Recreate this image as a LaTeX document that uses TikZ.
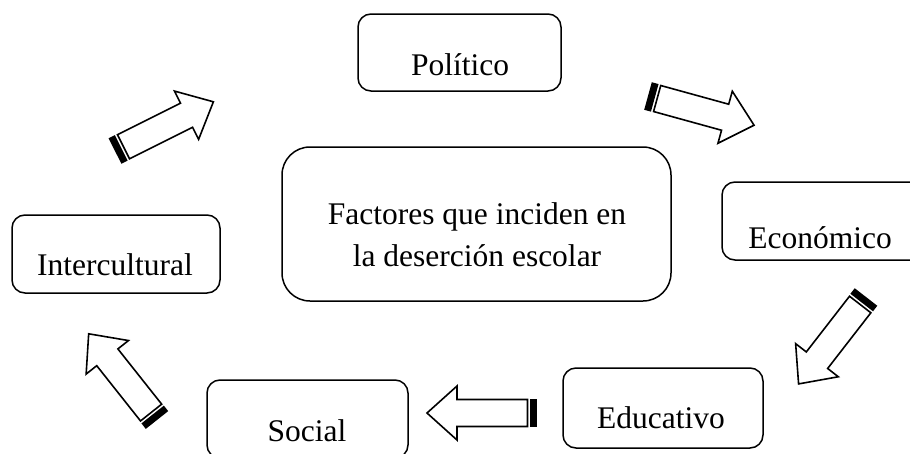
\documentclass[tikz,border=0pt]{standalone}
\usepackage{fontspec}
\setmainfont{Liberation Serif}
\tikzset{
  box/.style={draw, line width=1.5pt, rounded corners=13pt, inner sep=0pt, fill=none},
  lbl/.style={inner sep=0pt, anchor=base, font=\fontsize{31.5}{38}\selectfont},
  stripedarrow/.pic={
    \fill[black] (0,-14.3) rectangle (7,14.3);
    \draw[line width=1.6pt, fill=white, line join=miter]
      (9.5,-13.5) -- (80,-13.5) -- (80,-27) -- (110,0) -- (80,27) -- (80,13.5) -- (9.5,13.5) -- cycle;
  }
}
\begin{document}
\begin{tikzpicture}[x=1pt,y=1pt]
\useasboundingbox (0,0) rectangle (910,-453);
\clip (0,0) rectangle (910,-453);
% boxes
\node[box, minimum width=203pt, minimum height=77pt] (pol) at (459.5,-52.5) {};
\node[box, rounded corners=28pt, minimum width=389pt, minimum height=154pt] (cen) at (476.5,-224) {};
\node[box, minimum width=203pt, minimum height=78pt] (eco) at (823.5,-221) {};
\node[box, minimum width=208pt, minimum height=78pt] (int) at (116,-254) {};
\node[box, minimum width=201pt, minimum height=78pt] (soc) at (307.5,-419) {};
\node[box, minimum width=200pt, minimum height=80pt] (edu) at (663,-408) {};
% labels
\node[lbl] (tpol) at (460,-75) {Político};
\node[lbl] (tcen1) at (477,-224) {Factores que inciden en};
\node[lbl] (tcen2) at (477,-266) {la deserción escolar};
\node[lbl] (teco) at (820,-248) {Económico};
\node[lbl] (tint) at (115,-275) {Intercultural};
\node[lbl] (tsoc) at (307,-441) {Social};
\node[lbl] (tedu) at (661,-428) {Educativo};
% striped block arrows
\pic[rotate=26.57] at (115,-151) {stripedarrow};
\pic[rotate=-15.4] at (648,-96) {stripedarrow};
\pic[rotate=232.2] at (866,-297) {stripedarrow};
\pic[rotate=180] at (537,-413) {stripedarrow};
\pic[rotate=128.4] at (157,-420) {stripedarrow};
\end{tikzpicture}
\end{document}
